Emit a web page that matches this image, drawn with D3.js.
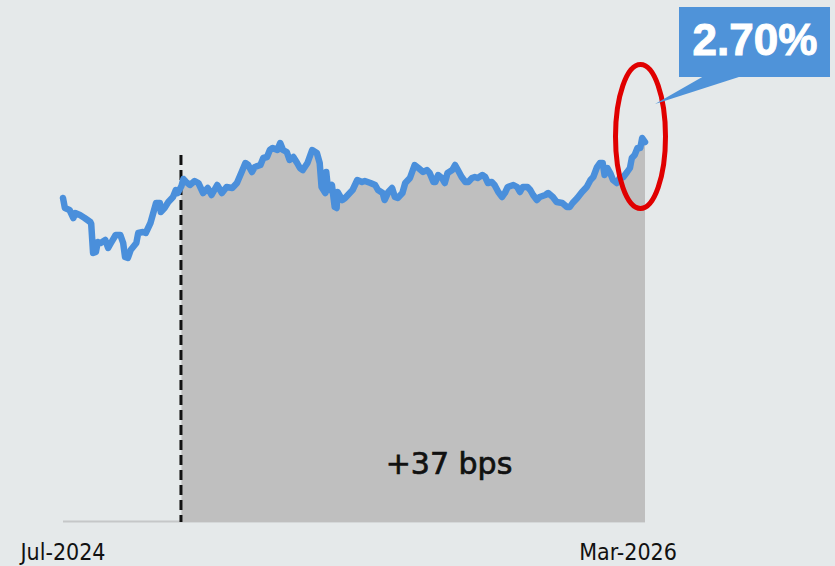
<!DOCTYPE html>
<html>
<head>
<meta charset="utf-8">
<script src="https://cdn.jsdelivr.net/npm/d3@7"></script>
<style>
  html, body { margin: 0; padding: 0; background: #e5e9ea; }
  svg { display: block; }
</style>
</head>
<body>
<svg id="chart" width="835" height="566"></svg>
<script>
// ---- DATA ----
// days since 2024-07-01
const days = [0,2,7,11,13,18,23,29,30,32,35,37,40,45,48,51,56,61,64,66,69,72,78,80,85,88,93,96,99,103,104,108,112,117,120,122,126,128,131,
  135,140,144,149,154,158,164,169,174,180,185,190,194,197,201,204,210,213,217,220,223,228,231,234,238,241,245,249,252,255,260,265,270,273,275,279,280,282,286,289,291,292,297,300,305,308,313,318,321,327,332,335,340,342,346,350,353,356,361,364,369,374,378,383,387,390,394,396,399,403,406,409,414,417,420,424,428,431,435,438,441,446,449,452,456,459,463,467,470,473,479,483,486,489,494,497,500,504,507,513,516,521,525,531,536,539,542,547,552,557,561,564,568,571,574,576,579,582,585,589,592,596,600,603,605,608,611,614,616,619];
// yield, %
const values = [2.14,2.04,2.02,1.94,1.99,1.97,1.94,1.90,1.88,1.59,1.60,1.70,1.69,1.72,1.64,1.69,1.77,1.77,1.69,1.55,1.54,1.62,1.69,1.79,1.80,1.79,1.89,1.99,2.09,2.09,2.00,2.04,2.10,2.15,2.22,2.19,2.26,2.33,2.30,
  2.27,2.31,2.29,2.19,2.24,2.17,2.27,2.19,2.25,2.24,2.29,2.40,2.49,2.47,2.40,2.45,2.47,2.54,2.55,2.62,2.64,2.62,2.69,2.62,2.60,2.52,2.55,2.49,2.44,2.42,2.49,2.62,2.59,2.49,2.25,2.19,2.40,2.22,2.27,2.05,2.04,2.20,2.12,2.14,2.19,2.22,2.32,2.30,2.31,2.29,2.27,2.22,2.19,2.12,2.20,2.24,2.15,2.14,2.19,2.29,2.34,2.47,2.44,2.40,2.42,2.39,2.30,2.30,2.37,2.34,2.29,2.39,2.42,2.47,2.42,2.35,2.30,2.30,2.34,2.35,2.34,2.37,2.35,2.29,2.30,2.27,2.20,2.15,2.19,2.25,2.27,2.25,2.20,2.25,2.25,2.22,2.17,2.12,2.15,2.17,2.19,2.15,2.10,2.09,2.05,2.05,2.09,2.14,2.20,2.25,2.32,2.35,2.45,2.49,2.49,2.37,2.44,2.39,2.32,2.29,2.34,2.35,2.40,2.44,2.54,2.57,2.64,2.64,2.74,2.70];
const eventDay = 126;          // dashed marker (area starts here)
const tickDays = [0, 601];
const tickLabels = ["Jul-2024", "Mar-2026"];
const changeLabel = "+37 bps";
const lastLabel = "2.70%";

// ---- CHART ----
const svg = d3.select("#chart");
const data = days.map((d, i) => ({ d, v: values[i] }));

const x = d3.scaleLinear().domain([0, 619]).range([63, 645]);
const y = d3.scaleLinear().domain([-1.09, 2.70]).range([521, 142]);

// baseline
svg.append("line")
  .attr("x1", x(0)).attr("x2", x(619))
  .attr("y1", y(-1.09) + 0.5).attr("y2", y(-1.09) + 0.5)
  .attr("stroke", "#c5c7c8").attr("stroke-width", 2);

// shaded area from event onward
const areaData = data.filter(p => p.d >= eventDay);
svg.append("path")
  .datum(areaData)
  .attr("fill", "#bfbfbf")
  .attr("d", d3.area().x(p => x(p.d)).y0(y(-1.09) + 1).y1(p => y(p.v)));

// dashed vertical marker
svg.append("line")
  .attr("x1", x(eventDay) - 0.5).attr("x2", x(eventDay) - 0.5)
  .attr("y1", y(2.57)).attr("y2", y(-1.09) + 1)
  .attr("stroke", "#111").attr("stroke-width", 3)
  .attr("stroke-dasharray", "10,5");

// line
svg.append("path")
  .datum(data)
  .attr("fill", "none")
  .attr("stroke", "#4a8fdb")
  .attr("stroke-width", 6.5)
  .attr("stroke-linejoin", "round")
  .attr("stroke-linecap", "round")
  .attr("d", d3.line().x(p => x(p.d)).y(p => y(p.v)));

// x tick labels
svg.selectAll("text.tick")
  .data(tickDays)
  .enter().append("text")
  .attr("class", "tick")
  .attr("x", d => x(d))
  .attr("y", 560)
  .attr("text-anchor", "middle")
  .attr("font-family", "'DejaVu Sans Condensed', 'DejaVu Sans'")
  .attr("font-stretch", "condensed")
  .attr("font-size", 23)
  .attr("fill", "#111")
  .text((d, i) => tickLabels[i]);

// change label
svg.append("text")
  .attr("x", 449).attr("y", 474)
  .attr("text-anchor", "middle")
  .attr("font-family", "'DejaVu Sans', sans-serif")
  .attr("font-size", 30)
  .attr("fill", "#111")
  .attr("stroke", "#111")
  .attr("stroke-width", 0.7)
  .text(changeLabel);

// red ellipse
svg.append("ellipse")
  .attr("cx", 640.5).attr("cy", 136.5)
  .attr("rx", 25).attr("ry", 72)
  .attr("fill", "none")
  .attr("stroke", "#e00000")
  .attr("stroke-width", 5);

// callout
const blue = "#4f93d9";
svg.append("polygon")
  .attr("points", "704,76 742,76 655,104")
  .attr("fill", blue);
svg.append("rect")
  .attr("x", 679).attr("y", 7).attr("width", 151).attr("height", 70)
  .attr("fill", blue);
svg.append("text")
  .attr("x", 755).attr("y", 55)
  .attr("text-anchor", "middle")
  .attr("font-family", "'Liberation Sans', Arial, sans-serif")
  .attr("font-weight", "bold")
  .attr("font-size", 44)
  .attr("fill", "#fff")
  .attr("stroke", "#fff")
  .attr("stroke-width", 1)
  .text(lastLabel);
</script>
</body>
</html>
